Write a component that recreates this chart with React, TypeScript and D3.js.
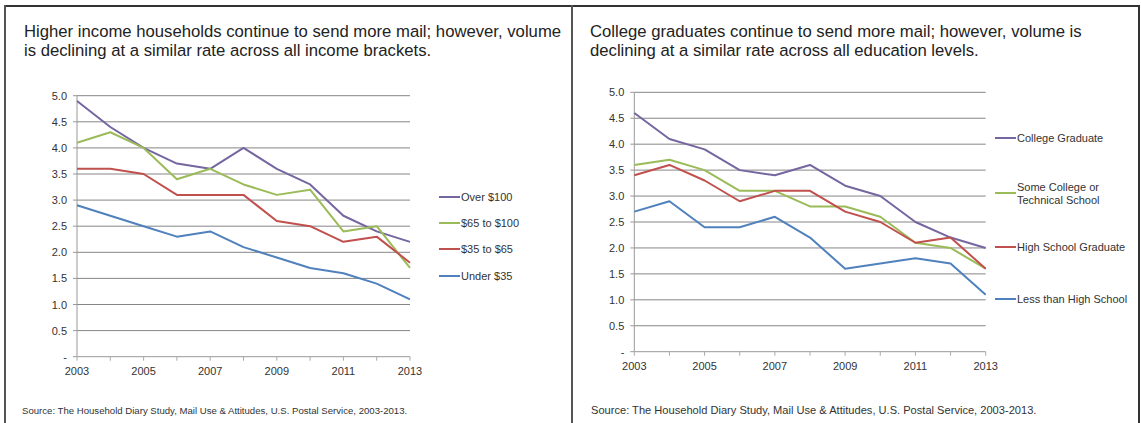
import React from "react";
import * as d3 from "d3";

const years = [2003, 2004, 2005, 2006, 2007, 2008, 2009, 2010, 2011, 2012, 2013];
const yearLabels = [2003, 2005, 2007, 2009, 2011, 2013];
const yTicks = [0, 0.5, 1, 1.5, 2, 2.5, 3, 3.5, 4, 4.5, 5];

const incomeNames = ["Over $100", "$65 to $100", "$35 to $65", "Under $35"];
const over100 = [4.9, 4.4, 4.0, 3.7, 3.6, 4.0, 3.6, 3.3, 2.7, 2.4, 2.2];
const from65to100 = [4.1, 4.3, 4.0, 3.4, 3.6, 3.3, 3.1, 3.2, 2.4, 2.5, 1.7];
const from35to65 = [3.6, 3.6, 3.5, 3.1, 3.1, 3.1, 2.6, 2.5, 2.2, 2.3, 1.8];
const under35 = [2.9, 2.7, 2.5, 2.3, 2.4, 2.1, 1.9, 1.7, 1.6, 1.4, 1.1];

const eduNames = [["College Graduate"], ["Some College or", "Technical School"], ["High School Graduate"], ["Less than High School"]];
const collegeGrad = [4.6, 4.1, 3.9, 3.5, 3.4, 3.6, 3.2, 3.0, 2.5, 2.2, 2.0];
const someCollege = [3.6, 3.7, 3.5, 3.1, 3.1, 2.8, 2.8, 2.6, 2.1, 2.0, 1.6];
const highSchool = [3.4, 3.6, 3.3, 2.9, 3.1, 3.1, 2.7, 2.5, 2.1, 2.2, 1.6];
const lessThanHS = [2.7, 2.9, 2.4, 2.4, 2.6, 2.2, 1.6, 1.7, 1.8, 1.7, 1.1];

const colors = ["#7566a0", "#9bbb59", "#c0504d", "#4f81bd"];

const leftTitle = [
  "Higher income households continue to send more mail; however, volume",
  "is declining at a similar rate across all income brackets.",
];
const rightTitle = [
  "College graduates continue to send more mail; however, volume is",
  "declining at a similar rate across all education levels.",
];
const sourceText = "Source: The Household Diary Study, Mail Use & Attitudes, U.S. Postal Service, 2003-2013.";

const FONT = "Arial, 'Liberation Sans', sans-serif";

type PanelProps = {
  x0: number; x1: number; yTop: number; yBot: number;
  series: number[][];
  legend: string[][];
  legendX: number;
  legendY: number[];
  title: string[];
  titleX: number;
  sourceX: number;
  sourceSize: number;
};

function Panel(p: PanelProps) {
  const x = d3.scaleLinear().domain([2003, 2013]).range([p.x0, p.x1]);
  const y = d3.scaleLinear().domain([0, 5]).range([p.yBot, p.yTop]);
  const line = d3.line<number>().x((_, i) => x(years[i])).y((v) => y(v));
  return (
    <g fontFamily={FONT}>
      {p.title.map((t, i) => (
        <text key={i} x={p.titleX} y={37 + i * 19} fontSize={16.7} fill="#222">{t}</text>
      ))}
      {yTicks.filter((t) => t > 0).map((t) => (
        <line key={t} x1={p.x0} x2={p.x1} y1={y(t)} y2={y(t)} stroke="#868686" strokeWidth={1} />
      ))}
      <line x1={p.x0} x2={p.x0} y1={p.yTop} y2={p.yBot} stroke="#999" />
      <line x1={p.x0} x2={p.x1} y1={p.yBot} y2={p.yBot} stroke="#999" />
      {yTicks.map((t) => (
        <g key={"yt" + t}>
          <line x1={p.x0 - 4} x2={p.x0} y1={y(t)} y2={y(t)} stroke="#999" />
          <text x={p.x0 - 10} y={y(t) + 4} fontSize={11} textAnchor="end" fill="#333">
            {t === 0 ? "-" : d3.format(".1f")(t)}
          </text>
        </g>
      ))}
      {years.map((yr) => (
        <line key={"xt" + yr} x1={x(yr)} x2={x(yr)} y1={p.yBot} y2={p.yBot + 4} stroke="#aaa" />
      ))}
      {yearLabels.map((yr) => (
        <text key={"xl" + yr} x={x(yr)} y={p.yBot + 18} fontSize={11} textAnchor="middle" fill="#333">{yr}</text>
      ))}
      {p.series.map((s, i) => (
        <path key={"s" + i} d={line(s) || ""} fill="none" stroke={colors[i]} strokeWidth={2} strokeLinejoin="round" />
      ))}
      {p.legend.map((lines, i) => (
        <g key={"lg" + i}>
          <line x1={p.legendX} x2={p.legendX + 21} y1={p.legendY[i]} y2={p.legendY[i]} stroke={colors[i]} strokeWidth={2} />
          {lines.map((l, j) => (
            <text key={j} x={p.legendX + 22} y={p.legendY[i] + 4 + (j - (lines.length - 1) / 2) * 13} fontSize={11} fill="#333">{l}</text>
          ))}
        </g>
      ))}
      <text x={p.sourceX} y={414} fontSize={p.sourceSize} fill="#333">{sourceText}</text>
    </g>
  );
}

export default function App() {
  return (
    <svg width={1141} height={423} style={{ position: "absolute", left: 0, top: 0, background: "#fff" }}>
      <rect x={0} y={0} width={1141} height={423} fill="#fff" />
      <line x1={5} x2={1140} y1={6} y2={6} stroke="#333" strokeWidth={2} />
      <line x1={5} x2={5} y1={5} y2={423} stroke="#555" strokeWidth={2} />
      <line x1={572} x2={572} y1={5} y2={423} stroke="#555" strokeWidth={2} />
      <line x1={1139} x2={1139} y1={5} y2={423} stroke="#333" strokeWidth={2} />
      <Panel
        x0={77} x1={410} yTop={95.7} yBot={356.7}
        series={[over100, from65to100, from35to65, under35]}
        legend={incomeNames.map((n) => [n])}
        legendX={439} legendY={[197, 223, 249, 276]}
        title={leftTitle} titleX={24} sourceX={22} sourceSize={9.6}
      />
      <Panel
        x0={634.3} x1={985.7} yTop={92.3} yBot={351.7}
        series={[collegeGrad, someCollege, highSchool, lessThanHS]}
        legend={eduNames}
        legendX={995} legendY={[138, 193, 247, 299]}
        title={rightTitle} titleX={590} sourceX={591} sourceSize={11.1}
      />
    </svg>
  );
}
